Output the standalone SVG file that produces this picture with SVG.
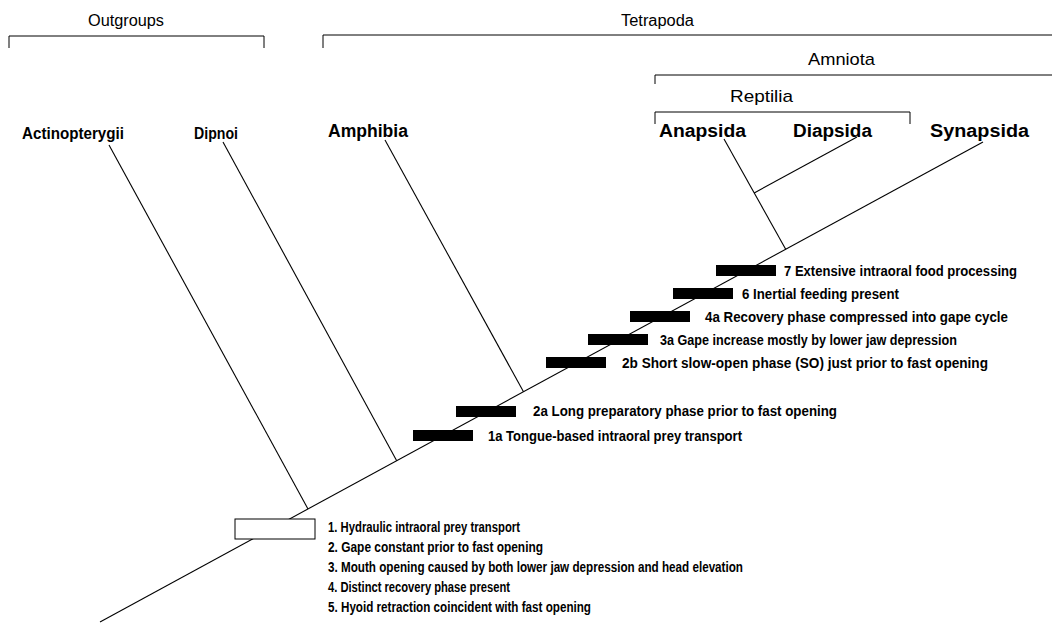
<svg xmlns="http://www.w3.org/2000/svg" width="1052" height="625" viewBox="0 0 1052 625">
<style>
text{font-family:"Liberation Sans Narrow","Liberation Sans",Arial,sans-serif;fill:#000}
.hd{font-size:16px}
.hd2{font-size:17px}
.tx{font-size:18px;font-weight:bold}
.tx2{font-size:16px;font-weight:bold}
.lb{font-size:14.5px;font-weight:bold}
.ln{stroke:#000;stroke-width:1.1;fill:none}
.br{stroke:#000;stroke-width:1;fill:none}
.bar{fill:#000}
</style>
<rect width="1052" height="625" fill="#fff"/>
<g id="brackets">
<g id="outgroups"><path class="br" d="M9,48V36H264V48"/><text class="hd" x="88" y="26" textLength="76" lengthAdjust="spacingAndGlyphs">Outgroups</text></g>
<g id="tetrapoda"><path class="br" d="M323,48V35H1052"/><text class="hd" x="621" y="26" textLength="73" lengthAdjust="spacingAndGlyphs">Tetrapoda</text></g>
<g id="amniota"><path class="br" d="M655,84V75H1052"/><text class="hd2" x="808" y="65" textLength="67" lengthAdjust="spacingAndGlyphs">Amniota</text></g>
<g id="reptilia"><path class="br" d="M655,124V112H910V124"/><text class="hd2" x="730" y="102" textLength="63" lengthAdjust="spacingAndGlyphs">Reptilia</text></g>
</g>
<g id="connectors">
<path class="ln" d="M100,622L983,142"/>
<path class="ln" d="M109,145L308,509"/>
<path class="ln" d="M223,142L396.7,460.7"/>
<path class="ln" d="M385,140L523.5,391.8"/>
<path class="ln" d="M724,139L785.7,249.2"/>
<path class="ln" d="M857,137L754.2,192.9"/>
</g>
<g id="taxon-actinopterygii"><text class="tx2" x="22" y="139" textLength="102" lengthAdjust="spacingAndGlyphs">Actinopterygii</text></g>
<g id="taxon-dipnoi"><text class="tx2" x="194" y="139" textLength="44" lengthAdjust="spacingAndGlyphs">Dipnoi</text></g>
<g id="taxon-amphibia"><text class="tx" x="328" y="137" textLength="80" lengthAdjust="spacingAndGlyphs">Amphibia</text></g>
<g id="taxon-anapsida"><text class="tx" x="659" y="137" textLength="87" lengthAdjust="spacingAndGlyphs">Anapsida</text></g>
<g id="taxon-diapsida"><text class="tx" x="793" y="137" textLength="79" lengthAdjust="spacingAndGlyphs">Diapsida</text></g>
<g id="taxon-synapsida"><text class="tx" x="930" y="137" textLength="99" lengthAdjust="spacingAndGlyphs">Synapsida</text></g>
<g id="char-7"><rect class="bar" x="716" y="265" width="60" height="11"/><text class="lb" x="784" y="276" textLength="233" lengthAdjust="spacingAndGlyphs">7 Extensive intraoral food processing</text></g>
<g id="char-6"><rect class="bar" x="673" y="288" width="60" height="11"/><text class="lb" x="742" y="299" textLength="157" lengthAdjust="spacingAndGlyphs">6 Inertial feeding present</text></g>
<g id="char-4a"><rect class="bar" x="630" y="311" width="60" height="11"/><text class="lb" x="705" y="322" textLength="303" lengthAdjust="spacingAndGlyphs">4a Recovery phase compressed into gape cycle</text></g>
<g id="char-3a"><rect class="bar" x="588" y="334" width="60" height="11"/><text class="lb" x="660" y="345" textLength="297" lengthAdjust="spacingAndGlyphs">3a Gape increase mostly by lower jaw depression</text></g>
<g id="char-2b"><rect class="bar" x="546" y="357" width="60" height="11"/><text class="lb" x="622" y="368" textLength="366" lengthAdjust="spacingAndGlyphs">2b Short slow-open phase (SO) just prior to fast opening</text></g>
<g id="char-2a"><rect class="bar" x="456" y="406" width="60" height="11"/><text class="lb" x="533" y="416" textLength="304" lengthAdjust="spacingAndGlyphs">2a Long preparatory phase prior to fast opening</text></g>
<g id="char-1a"><rect class="bar" x="413" y="430" width="60" height="11"/><text class="lb" x="488" y="441" textLength="254" lengthAdjust="spacingAndGlyphs">1a Tongue-based intraoral prey transport</text></g>
<g id="char-base">
<rect x="235" y="519" width="80" height="20" fill="#fff" stroke="#000" stroke-width="1"/>
<text class="lb" x="328" y="532" textLength="192" lengthAdjust="spacingAndGlyphs">1. Hydraulic intraoral prey transport</text>
<text class="lb" x="328" y="552" textLength="215" lengthAdjust="spacingAndGlyphs">2. Gape constant prior to fast opening</text>
<text class="lb" x="328" y="572" textLength="415" lengthAdjust="spacingAndGlyphs">3. Mouth opening caused by both lower jaw depression and head elevation</text>
<text class="lb" x="328" y="592" textLength="182" lengthAdjust="spacingAndGlyphs">4. Distinct recovery phase present</text>
<text class="lb" x="328" y="612" textLength="263" lengthAdjust="spacingAndGlyphs">5. Hyoid retraction coincident with fast opening</text>
</g>
</svg>
